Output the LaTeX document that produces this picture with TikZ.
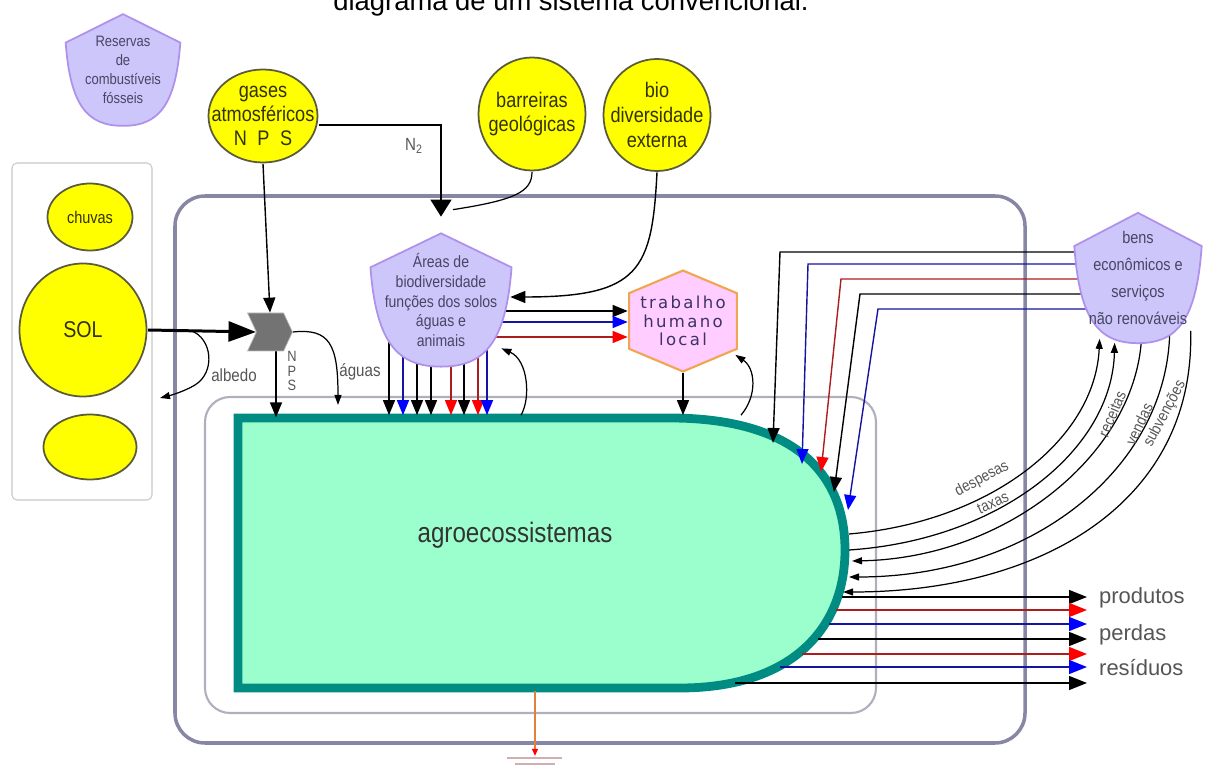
\documentclass[tikz,border=0pt]{standalone}
\usepackage{fontspec}
\setmainfont{Liberation Sans}
\newfontfamily\narrowfont[FakeStretch=0.86]{Liberation Sans}
\newfontfamily\spacedfont[LetterSpace=14]{DejaVu Sans}
\usetikzlibrary{arrows.meta,calc,shapes.symbols}
\newcommand\pxu{0.02cm}

\definecolor{sunfill}{RGB}{255,255,0}
\definecolor{sunline}{RGB}{90,90,60}
\definecolor{lavfill}{RGB}{205,198,250}
\definecolor{lavline}{RGB}{175,145,235}
\definecolor{pinkfill}{RGB}{255,205,255}
\definecolor{hexline}{RGB}{240,165,80}
\definecolor{agrofill}{RGB}{155,255,205}
\definecolor{agroline}{RGB}{0,140,130}
\definecolor{boxline}{RGB}{135,135,165}
\definecolor{innerline}{RGB}{175,175,190}
\definecolor{sidebox}{RGB}{200,200,205}
\definecolor{labelgray}{RGB}{85,85,85}
\definecolor{slatetext}{RGB}{70,70,100}
\definecolor{olivetext}{RGB}{50,50,10}
\definecolor{hextext}{RGB}{60,50,100}
\definecolor{flowred}{RGB}{170,30,30}
\definecolor{flowblue}{RGB}{20,20,160}
\definecolor{gatefill}{RGB}{115,115,115}
\definecolor{groundline}{RGB}{225,130,60}

\pgfdeclarelayer{boxes}
\pgfdeclarelayer{links}
\pgfsetlayers{boxes,links,main}

\begin{document}
\begin{tikzpicture}[x=0.02cm,y=-0.02cm,
  sunsrc/.style 2 args={minimum width=#1*\pxu,minimum height=#2*\pxu,inner sep=0pt,align=center,text=olivetext,
    path picture={\filldraw[fill=sunfill,draw=sunline,line width=1pt]
      (path picture bounding box.center) ellipse [x radius=#1/2-1,y radius=#2/2-1];}},
  shieldbox/.style 2 args={minimum width=#1*\pxu,minimum height=#2*\pxu,inner sep=0pt,align=center,text=slatetext,
    path picture={\path (path picture bounding box.north west) coordinate (pnw);
      \filldraw[fill=lavfill,draw=lavline,line width=1pt] ($(pnw)+(0.5*#1,0.01*#2)$) -- ($(pnw)+(0.01*#1,0.26*#2)$)
        .. controls ($(pnw)+(0.05*#1,0.82*#2)$) and ($(pnw)+(0.2*#1,0.99*#2)$) .. ($(pnw)+(0.5*#1,0.99*#2)$)
        .. controls ($(pnw)+(0.8*#1,0.99*#2)$) and ($(pnw)+(0.95*#1,0.82*#2)$) .. ($(pnw)+(0.99*#1,0.26*#2)$) -- cycle;}},
  hexbox/.style 2 args={minimum width=#1*\pxu,minimum height=#2*\pxu,inner sep=0pt,align=center,text=hextext,
    path picture={\path (path picture bounding box.north west) coordinate (pnw);
      \filldraw[fill=pinkfill,draw=hexline,line width=1.2pt] ($(pnw)+(0.5*#1,0.01*#2)$) -- ($(pnw)+(0.01*#1,0.23*#2)$)
        -- ($(pnw)+(0.01*#1,0.77*#2)$) -- ($(pnw)+(0.5*#1,0.99*#2)$) -- ($(pnw)+(0.99*#1,0.77*#2)$)
        -- ($(pnw)+(0.99*#1,0.23*#2)$) -- cycle;}},
  srcfont/.style={font=\narrowfont\fontsize{12}{13.6}\selectfont},
  smalltext/.style={text=labelgray,font=\narrowfont\fontsize{10}{10}\selectfont},
  curvetext/.style={text=labelgray,font=\narrowfont\fontsize{9}{9}\selectfont},
  outlabel/.style={anchor=west,text=labelgray,font=\fontsize{12.5}{14}\selectfont},
  linkline/.style={draw=black,line width=0.7pt},
  thinarr/.style={linkline,-{Triangle[length=0.2cm,width=0.14cm]}},
  flowk/.style={draw=black,line width=0.8pt,-{Triangle[length=0.3cm,width=0.24cm]}},
  flowb/.style={draw=flowblue,line width=0.8pt,-{Triangle[length=0.3cm,width=0.24cm,color=blue]}},
  flowr/.style={draw=flowred,line width=0.8pt,-{Triangle[length=0.3cm,width=0.24cm,color=red]}},
  outk/.style={draw=black,line width=0.8pt,-{Triangle[length=0.36cm,width=0.28cm]}},
  outb/.style={draw=flowblue,line width=0.8pt,-{Triangle[length=0.36cm,width=0.28cm,color=blue]}},
  outr/.style={draw=flowred,line width=0.8pt,-{Triangle[length=0.36cm,width=0.28cm,color=red]}}]
  \useasboundingbox (0,0) rectangle (1211,766);

  % title, cut by the top edge
  \node[anchor=base,font=\fontsize{15.6}{18}\selectfont] (title) at (571,11) {diagrama de um sistema convencional.};

  % boxes and the agroecosystem
  \begin{pgfonlayer}{boxes}
    \draw[sidebox,line width=0.6pt,rounded corners=0.1cm] (12,163) rectangle (152,500);
    \draw[boxline,line width=2pt,rounded corners=0.6cm] (175,196) rectangle (1025,743);
    \draw[innerline,line width=1.2pt,rounded corners=0.5cm] (205,397) rectangle (876,713);
    \filldraw[fill=agrofill,draw=agroline,line width=5pt] (238,418) -- (670,418)
      .. controls (790,418) and (845,470) .. (845,550)
      .. controls (845,630) and (790,688) .. (680,688) -- (238,688) -- cycle;
  \end{pgfonlayer}
  \node[inner sep=0pt,minimum width=612*\pxu,minimum height=275*\pxu] (agro) at (539,553) {};
  \node[text=black!80,font=\narrowfont\fontsize{16}{18}\selectfont] (agrotxt) at (515,535) {agroecossistemas};

  % sources
  \node[sunsrc={87}{69},font=\narrowfont\fontsize{9.6}{11}\selectfont] (chuvas) at (90,217) {chuvas};
  \node[sunsrc={129}{135},font=\narrowfont\fontsize{13}{14}\selectfont] (sol) at (83,330) {SOL};
  \node[sunsrc={95}{67}] (lowsrc) at (90,447) {};
  \node[sunsrc={111}{95},srcfont] (gases) at (263,116) {gases\\atmosféricos\\N\enspace P\enspace S};
  \node[sunsrc={109}{115},srcfont] (barr) at (532,114) {barreiras\\geológicas};
  \node[sunsrc={109}{114},font=\narrowfont\fontsize{12}{14}\selectfont] (bio) at (657,115) {bio\\diversidade\\externa};

  \node[shieldbox={117}{114},font=\narrowfont\fontsize{8.6}{10.8}\selectfont] (reservas) at (123,70) {Reservas\\de\\combustíveis\\fósseis};
  \node[shieldbox={144}{136},font=\narrowfont\fontsize{9.3}{11.3}\selectfont] (areas) at (441,300) {Áreas de\\biodiversidade\\funções dos solos\\águas e\\animais};
  \node[shieldbox={130}{133},font=\narrowfont\fontsize{9.6}{15.3}\selectfont] (bens) at (1138,278) {bens\\econômicos e\\serviços\\não renováveis};
  \node[hexbox={110}{103},font=\spacedfont\fontsize{9.4}{10.4}\selectfont] (trab) at (683,321) {trabalho\\humano\\local};
  \node[signal,signal to=east,signal from=west,signal pointer angle=130,fill=gatefill,draw=black!25,
    minimum width=45*\pxu,minimum height=38*\pxu,inner sep=0pt] (chev) at (270,332) {};

  % small labels
  \node[smalltext] (ntwo) at (414,146) {N\textsubscript{2}};
  \node[smalltext] (albedo) at (234,375) {albedo};
  \node[smalltext] (aguas) at (360,372) {águas};
  \node[smalltext,align=center,font=\narrowfont\fontsize{8.5}{8.5}\selectfont] (npslab) at (292,371) {N\\P\\S};
  \node[curvetext,rotate=28] (despesas) at (982,479) {despesas};
  \node[curvetext,rotate=24] (taxas) at (993,503) {taxas};
  \node[curvetext,rotate=67] (receitas) at (1112,414) {receitas};
  \node[curvetext,rotate=65] (vendas) at (1139,424) {vendas};
  \node[curvetext,rotate=62] (subvencoes) at (1165,414) {subvenções};
  \node[outlabel] (produtos) at (1093,598) {produtos};
  \node[outlabel] (perdas) at (1093,635) {perdas};
  \node[outlabel] (residuos) at (1093,668) {resíduos};

  % free ends on the agroecosystem edge
  \coordinate (albedoout) at (160,398);
  \coordinate (aguasin) at (338,405);
  \foreach \n/\x/\y in {bk1/773/443,bb1/802/464,br1/821/472,bk2/834/492,bb2/848/510,
      dsp/849/534,txs/849/550,rcv/852/561,vdv/849/577,svv/843/592,
      o1/842/597,o2/836/610,o3/829/624,o4/818/639,o5/802/654,o6/780/667,o7/735/683}
    \coordinate (\n) at (\x,\y);

  \begin{pgfonlayer}{links}
    % energy and gases
    \draw[line width=1.7pt,-{Triangle[length=0.55cm,width=0.4cm]}] (sol.east) -- (chev.west);
    \draw[thinarr] ($(sol.east)!0.4!(chev.west)$) .. controls (212,338) and (216,372) .. (195,385)
      .. controls (185,391) and (172,395) .. (albedoout);
    \draw[flowk] (gases.south) -- (chev.north);
    \draw[flowk] ($(chev.south)+(6,0)$) -- ++(0,66);
    \draw[thinarr] (chev.east) .. controls (330,328) and (338,345) .. (aguasin);
    \draw[line width=0.8pt,shorten >=0.3cm,-{Triangle[length=0.34cm,width=0.42cm]}]
      ($(gases.east)+(0,9)$) -| (areas.north);
    \draw[linkline] (barr.south) .. controls (532,192) and (515,200) .. ($(areas.north)+(12,-22)$);
    \draw[flowk] (bio.south) .. controls (652,270) and (640,297) .. ($(areas.east)+(-3,-3)$);

    % biodiversity areas
    \draw[flowk] (areas.center |- 0,311) -- (trab.west |- 0,311);
    \draw[flowb] (areas.center |- 0,322) -- (trab.west |- 0,322);
    \draw[flowr] (areas.center |- 0,337) -- (trab.west |- 0,337);
    \foreach \x/\f in {389/flowk,403/flowb,417/flowk,431/flowk,451/flowr,464/flowk,478/flowr,487/flowb}
      \draw[\f] (areas.center -| \x,0) -- (agro.north -| \x,0);
    \draw[thinarr] (agro.north -| 521,0) .. controls (531,398) and (528,360) .. ($(areas.south east)+(-12,-20)$);

    % local labour
    \draw[flowk] (trab.south) -- (trab.south |- agro.north);
    \draw[thinarr] (agro.north -| 741,0) .. controls (758,395) and (755,368) .. ($(trab.south east)+(-3,-18)$);

    % purchased goods and services
    \foreach \y/\cx/\e/\f in {252/780/bk1/flowk,264/808/bb1/flowb,279/841/br1/flowr,294/860/bk2/flowk,309/878/bb2/flowb}
      \draw[\f] (bens.center |- 0,\y) -- (\cx,\y) -- (\e);
    \draw[thinarr] (dsp) .. controls (990,522) and (1095,440) .. ($(bens.south west)+(27,-6)$);
    \draw[thinarr] (txs) .. controls (1000,540) and (1112,450) .. ($(bens.south west)+(42,-2)$);
    \draw[thinarr] ($(bens.south west)+(69,-10)$) .. controls (1138,450) and (1010,558) .. (rcv);
    \draw[thinarr] ($(bens.south west)+(97,-10)$) .. controls (1165,470) and (1030,577) .. (vdv);
    \draw[thinarr] ($(bens.south west)+(118,-14)$) .. controls (1195,500) and (1045,592) .. (svv);

    % outputs
    \foreach \n/\f in {o1/outk,o2/outr,o3/outb,o4/outk,o5/outr,o6/outb,o7/outk}
      \draw[\f] (\n) -- (\n -| 1087,0);

    % heat sink
    \draw[groundline,line width=0.8pt,-{Triangle[length=0.14cm,width=0.12cm,color=red]}] (agro.south -| 535,0) -- ++(0,65);
  \end{pgfonlayer}
  \draw[red!25!gray!50,line width=0.8pt] (507,758) -- (562,758);
  \draw[red!25!gray!50,line width=0.8pt] (515,764) -- (555,764);
\end{tikzpicture}
\end{document}
